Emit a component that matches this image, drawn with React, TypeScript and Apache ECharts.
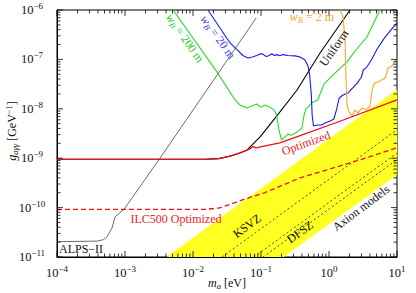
import React, { useEffect, useRef } from 'react';
import * as echarts from 'echarts';

const X_MIN = 1e-4;
const X_MAX = 10;
const Y_MIN = 1e-11;
const Y_MAX = 1e-6;
const X_DECADES = [-4, -3, -2, -1, 0, 1];
const Y_DECADES = [-11, -10, -9, -8, -7, -6];

const alps: number[][] = [
  [1e-4, 2.04e-11], [3.9e-4, 2.1e-11], [4.8e-4, 2.24e-11], [5.4e-4, 2.54e-11],
  [6.44e-4, 3.86e-11], [7.13e-4, 6.45e-11], [9.7e-4, 9.3e-11], [3.27e-3, 1.0e-9], [8.5e-2, 6.9e-7],
];

const optimized: number[][] = [
  [1e-4, 9.5e-10], [1.5e-2, 9.5e-10], [2.4e-2, 9.8e-10], [3.5e-2, 1.1e-9], [4.9e-2, 1.28e-9],
  [6.9e-2, 1.55e-9], [7.6e-2, 1.72e-9], [8.5e-2, 1.62e-9], [0.115, 1.78e-9], [0.19, 2.04e-9],
  [0.375, 2.87e-9], [1.45, 5.6e-9], [10, 1.51e-8],
];

const ilc500: number[][] = [
  [1e-4, 9.2e-11], [1.5e-2, 9.2e-11], [2.4e-2, 9.8e-11], [3.5e-2, 1.16e-10], [5.8e-2, 1.49e-10],
  [0.115, 2.02e-10], [0.375, 4.0e-10], [2.04, 8.0e-10], [10, 1.62e-9],
];

const uniform: number[][] = [
  [1e-4, 9.5e-10], [1.5e-2, 9.5e-10], [2.4e-2, 9.8e-10], [3.5e-2, 1.1e-9], [4.9e-2, 1.28e-9],
  [6.2e-2, 1.45e-9], [9.7e-2, 2.7e-9], [0.161, 6.5e-9], [0.339, 2.4e-8], [0.738, 1.35e-7], [2.04, 1e-6],
];

const wb200: number[][] = [
  [5.1e-3, 1e-6], [2.25e-2, 5.6e-8], [4.15e-2, 1.51e-8], [4.9e-2, 1.19e-8], [6.2e-2, 1.04e-8],
  [7.3e-2, 1.14e-8], [8.7e-2, 1.25e-8], [9.9e-2, 1.08e-8], [0.115, 1.19e-8], [0.134, 1.08e-8],
  [0.155, 9.5e-9], [0.17, 7.5e-9], [0.184, 3.7e-9], [0.2, 2.34e-9], [0.226, 2.7e-9], [0.25, 3.1e-9],
  [0.28, 2.9e-9], [0.339, 3.4e-9], [0.4, 4.1e-9], [0.43, 7.5e-9], [0.46, 1.0e-8], [0.56, 1.32e-8],
  [0.68, 1.51e-8], [0.75, 2.09e-8], [0.85, 3.2e-8], [1.14, 4.8e-8], [1.84, 8.9e-8], [2.42, 1.48e-7],
  [3.62, 2.84e-7], [5.6, 1e-6],
];

const wb20: number[][] = [
  [1.66e-2, 1e-6], [3.5e-2, 2.15e-7], [4.6e-2, 1.5e-7], [5.4e-2, 1.2e-7], [6.4e-2, 1.07e-7],
  [7.5e-2, 1.12e-7], [8.7e-2, 1.2e-7], [0.096, 1.28e-7], [0.104, 1.3e-7], [0.12, 1.14e-7],
  [0.132, 1.2e-7], [0.144, 1.3e-7], [0.157, 1.2e-7], [0.17, 1.25e-7], [0.19, 1.18e-7], [0.21, 1.25e-7],
  [0.25, 1.2e-7], [0.316, 1.18e-7], [0.375, 1.12e-7], [0.44, 9.8e-8], [0.49, 7.4e-8], [0.52, 4.8e-8],
  [0.55, 1.9e-8], [0.565, 7.5e-9], [0.59, 4.5e-9], [0.68, 4.7e-9], [0.78, 4.7e-9], [0.89, 5.2e-9],
  [1.03, 5.6e-9], [1.18, 6.2e-9], [1.31, 1.04e-8], [1.41, 1.65e-8], [1.61, 1.9e-8], [1.9, 2.09e-8],
  [2.2, 2.6e-8], [2.6, 3.3e-8], [3.0, 4.4e-8], [3.2, 6.1e-8], [3.6, 7.0e-8], [4.2, 9.7e-8],
  [5.1, 1.62e-7], [6.4, 2.6e-7], [8.1, 3.9e-7], [10, 5.5e-7],
];

const wb2: number[][] = [
  [1.45, 1e-6], [1.61, 7.2e-7], [1.72, 2.47e-7], [1.78, 3.8e-8], [1.84, 1.19e-8], [1.97, 8.6e-9],
  [2.18, 7.1e-9], [2.41, 9.5e-9], [2.67, 8.2e-9], [3.05, 1.04e-8], [3.5, 9.5e-9], [4.0, 1.14e-8],
  [4.3, 2.4e-8], [4.6, 3.2e-8], [5.6, 3.66e-8], [6.7, 4.2e-8], [7.4, 6.7e-8], [8.4, 7.3e-8], [10, 1.07e-7],
];

const axionBand: number[][] = [
  [4.07e-3, 1e-11], [10, 2.46e-8], [10, 4.65e-10], [0.215, 1e-11],
];

const ksvz: number[][] = [[0.0267, 1e-11], [10, 3.75e-9]];
const dfszUpper: number[][] = [[0.0789, 1e-11], [10, 1.27e-9]];
const dfszLower: number[][] = [[0.107, 1e-11], [10, 9.35e-10]];

const SERIF = "'Liberation Serif', 'DejaVu Serif', serif";

function supLabel(v: number) {
  const e = Math.round(Math.log10(v));
  return `{b|10}{s|${e < 0 ? '\u2212' + -e : e}}`;
}

function buildTicks() {
  const t: number[][] = [];
  for (const k of X_DECADES) {
    t.push([Math.pow(10, k), Y_MIN, 0, 1]);
    if (k < 1) for (let d = 2; d <= 9; d++) t.push([d * Math.pow(10, k), Y_MIN, 0, 0]);
  }
  for (const k of Y_DECADES) {
    t.push([X_MIN, Math.pow(10, k), 1, 1]);
    if (k < -6) for (let d = 2; d <= 9; d++) t.push([X_MIN, d * Math.pow(10, k), 1, 0]);
  }
  return t;
}

const lineSeries = (data: number[][], color: string, width: number, z: number, type: any = 'solid') => ({
  type: 'line',
  data,
  symbol: 'none',
  silent: true,
  z,
  lineStyle: { color, width, type },
});

export default function App() {
  const ref = useRef<HTMLDivElement>(null);
  useEffect(() => {
    document.body.style.margin = '0';
    const chart = echarts.init(ref.current!, undefined, { renderer: 'svg' });
    const labelRich = {
      b: { fontSize: 12.5, fontFamily: SERIF, color: '#111' },
      s: { fontSize: 9, fontFamily: SERIF, color: '#111', padding: [0, 0, 8, 0] },
    };
    const txt = (x: number, y: number, text: string, color: string, rotDeg = 0, extra: any = {}) => ({
      type: 'text',
      x,
      y,
      rotation: (rotDeg * Math.PI) / 180,
      z: 100,
      style: {
        text,
        fill: color,
        fontSize: 12,
        fontFamily: SERIF,
        align: 'center',
        verticalAlign: 'middle',
        ...extra,
      },
    });
    const richFor = (color: string) => ({
      i: { fontSize: 12, fontStyle: 'italic', fontFamily: SERIF, fill: color, color },
      sub: { fontSize: 8.5, fontStyle: 'italic', fontFamily: SERIF, fill: color, color, padding: [6, 0, 0, 0] },
      sup: { fontSize: 8.5, fontFamily: SERIF, fill: color, color, padding: [0, 0, 6, 0] },
      t: { fontSize: 12, fontFamily: SERIF, fill: color, color },
    });
    chart.setOption({
      animation: false,
      grid: { left: 57, right: 19, top: 10, bottom: 36, show: true, borderColor: '#000', borderWidth: 1 },
      xAxis: {
        type: 'log',
        logBase: 10,
        min: X_MIN,
        max: X_MAX,
        axisLine: { show: true, lineStyle: { color: '#000', width: 1 } },
        axisTick: { show: false },
        splitLine: { show: false },
        axisLabel: { formatter: supLabel, rich: labelRich, margin: 7 },
      },
      yAxis: {
        type: 'log',
        logBase: 10,
        min: Y_MIN,
        max: Y_MAX,
        axisLine: { show: true, lineStyle: { color: '#000', width: 1 } },
        axisTick: { show: false },
        splitLine: { show: false },
        axisLabel: { formatter: supLabel, rich: labelRich, margin: 25, align: 'center' },
      },
      series: [
        {
          type: 'custom',
          silent: true,
          z: 1,
          data: [axionBand[0]],
          renderItem: (params: any, api: any) => {
            if (params.dataIndex !== 0) return null;
            const pts = axionBand.map((p) => api.coord(p));
            return { type: 'polygon', shape: { points: pts }, style: { fill: '#ffff22', stroke: 'none' } };
          },
        },
        lineSeries(ksvz, '#222', 0.8, 2, [2, 2.5]),
        lineSeries(dfszUpper, '#222', 0.8, 2, [2, 2.5]),
        lineSeries(dfszLower, '#222', 0.8, 2, [2, 2.5]),
        lineSeries(alps, '#444', 0.8, 3),
        lineSeries(uniform, '#000', 1.1, 4),
        lineSeries(wb200, '#22dd22', 1.1, 5),
        lineSeries(wb20, '#1a1aee', 1.1, 5),
        lineSeries(wb2, '#ffa424', 1.1, 5),
        lineSeries(ilc500, '#ee1111', 1.3, 6, [5, 3]),
        lineSeries(optimized, '#ee1111', 1.3, 7),
        {
          type: 'custom',
          silent: true,
          z: 20,
          data: buildTicks(),
          encode: { x: 0, y: 1 },
          renderItem: (params: any, api: any) => {
            const cs = params.coordSys;
            const kind = api.value(2);
            const len = api.value(3) ? 6 : 3.5;
            const st = { stroke: '#000', lineWidth: 0.8 };
            if (kind === 0) {
              const x = api.coord([api.value(0), Y_MIN])[0];
              const b = cs.y + cs.height;
              return {
                type: 'group',
                children: [
                  { type: 'line', shape: { x1: x, y1: b, x2: x, y2: b - len }, style: st },
                  { type: 'line', shape: { x1: x, y1: cs.y, x2: x, y2: cs.y + len }, style: st },
                ],
              };
            }
            const y = api.coord([X_MIN, api.value(1)])[1];
            const r = cs.x + cs.width;
            return {
              type: 'group',
              children: [
                { type: 'line', shape: { x1: cs.x, y1: y, x2: cs.x + len, y2: y }, style: st },
                { type: 'line', shape: { x1: r, y1: y, x2: r - len, y2: y }, style: st },
              ],
            };
          },
        },
      ],
      graphic: [
        txt(185, 38, '{i|w}{sub|B}{t| = 200 m}', '#22cc22', -55, { rich: richFor('#22cc22') }),
        txt(218, 37, '{i|w}{sub|B}{t| = 20 m}', '#4444ee', -54, { rich: richFor('#4444ee') }),
        txt(312, 17, '{i|w}{sub|B}{t| = 2 m}', '#ffa424', 0, { rich: richFor('#ffa424') }),
        txt(334, 48, 'Uniform', '#111', 55),
        txt(306, 143, 'Optimized', '#ee2222', 20),
        txt(176, 219, 'ILC500 Optimized', '#ee2222', 0),
        txt(59, 249, 'ALPS\u2212II', '#111', 0, { align: 'left' }),
        txt(247, 226, 'KSVZ', '#111', 36),
        txt(300, 232, 'DFSZ', '#111', 36),
        txt(361, 208, 'Axion models', '#111', 37),
        txt(227, 283, '{i|m}{sub|a}{t| [eV]}', '#111', 0, { rich: richFor('#111') }),
        txt(12, 131, '{i|g}{sub|a\u03b3\u03b3}{t| [GeV}{sup|\u22121}{t|]}', '#111', 90, { rich: richFor('#111') }),
      ],
    });
    return () => chart.dispose();
  }, []);
  return <div ref={ref} style={{ width: 416, height: 293 }} />;
}
